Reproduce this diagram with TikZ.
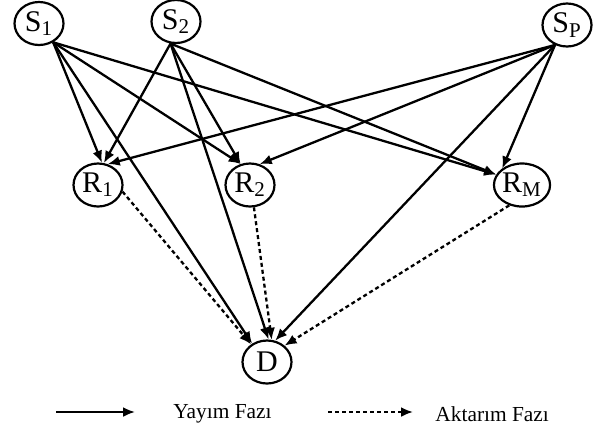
\documentclass[tikz,border=0pt]{standalone}
\usepackage{fontspec}
\setmainfont{Liberation Serif}
\usetikzlibrary{shapes.geometric,arrows.meta}
\begin{document}
\begin{tikzpicture}[x=0.5pt,y=-0.5pt,
  nd/.style={draw,ellipse,line width=1.1pt,minimum width=24.5pt,minimum height=21.5pt,inner sep=0pt,font=\fontsize{15}{17}\selectfont,fill=white},
  sol/.style={line width=1.15pt,-{Latex[length=6pt,width=5pt]}},
  dsh/.style={line width=1.15pt,dash pattern=on 2pt off 1.5pt,-{Latex[length=6pt,width=5pt]}},
  lgd/.style={font=\fontsize{10.7}{12}\selectfont,inner sep=0pt,anchor=west}]
\useasboundingbox (0,0) rectangle (593,430);
\node[nd] (S1) at (39,23.5) {S\textsubscript{1}};
\node[nd] (S2) at (176,21.5) {S\textsubscript{2}};
\node[nd] (SP) at (567,25) {S\textsubscript{P}};
\node[nd] (R1) at (98,185) {R\textsubscript{1}};
\node[nd] (R2) at (250,185) {R\textsubscript{2}};
\node[nd] (RM) at (522,185) {R\textsubscript{M}};
\node[nd] (D) at (267,362) {D};
% S1
\draw[sol] (S1.-53) -- (R1.80);
\draw[sol] (S1.-53) -- (R2.114);
\draw[sol] (S1.-53) -- (RM.158);
\draw[sol] (S1.-53) -- (D.129);
% S2
\draw[sol] (S2.-104) -- (R1.75);
\draw[sol] (S2.-104) -- (R2.114);
\draw[sol] (S2.-104) -- (RM.158);
\draw[sol] (S2.-104) -- (D.86);
% SP
\draw[sol] (SP.-121) -- (R1.65);
\draw[sol] (SP.-121) -- (R2.65);
\draw[sol] (SP.-121) -- (RM.140);
\draw[sol] (SP.-121) -- (D.69);
% relays
\draw[dsh] (R1.-15) -- (D.132);
\draw[dsh] (R2.-80) -- (D.78);
\draw[dsh] (RM.-122) -- (D.43);
% legend
\coordinate (la) at (56,412);
\coordinate (lb) at (135,412);
\coordinate (lc) at (328,412);
\coordinate (ld) at (413,412);
\draw[sol] (la) -- (lb);
\draw[dsh] (lc) -- (ld);
\node[lgd] (t1) at (173,414) {Yayım Fazı};
\node[lgd] (t2) at (435,414) {Aktarım Fazı};
\end{tikzpicture}
\end{document}
